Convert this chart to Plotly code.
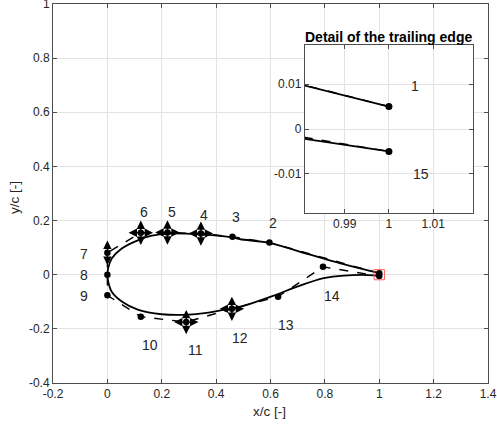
import plotly.graph_objects as go

# ---- data ----
cp_x = [1.0, 0.596, 0.46, 0.344, 0.221, 0.123, 0.0, 0.0, 0.0, 0.123, 0.29, 0.458, 0.628, 0.793, 1.0]
cp_y = [0.005, 0.119, 0.14, 0.152, 0.156, 0.155, 0.081, 0.0, -0.076, -0.155, -0.175, -0.126, -0.081, 0.029, -0.005]
cp_labels = [str(i) for i in range(1, 16)]

upper_x = [1.0, 0.981, 0.857, 0.735, 0.6, 0.489, 0.458, 0.347, 0.286, 0.225, 0.163, 0.114, 0.053, 0.016, 0.003, 0.0]
upper_y = [0.005, 0.0105, 0.042, 0.077, 0.117, 0.131, 0.138, 0.149, 0.152, 0.152, 0.144, 0.128, 0.097, 0.060, 0.025, 0.0]
lower_x = [0.0, 0.003, 0.016, 0.053, 0.114, 0.2, 0.286, 0.372, 0.458, 0.489, 0.612, 0.698, 0.796, 0.87, 0.981, 1.0]
lower_y = [0.0, -0.025, -0.063, -0.099, -0.13, -0.146, -0.148, -0.14, -0.124, -0.118, -0.077, -0.044, -0.013, -0.003, -0.0022, -0.005]

# label positions (main plot: points 2..14, inset: points 1 and 15)
label_x = [None, 0.61, 0.474, 0.356, 0.237, 0.136, -0.086, -0.086, -0.086, 0.155, 0.323, 0.489, 0.657, 0.827, None]
label_y = [None, 0.19, 0.215, 0.222, 0.232, 0.23, 0.075, 0.0, -0.077, -0.26, -0.278, -0.233, -0.185, -0.077, None]
inset_label_x = [1.0059, 1.0072]
inset_label_y = [0.0095, -0.0101]

# which control points carry movement arrows (index -> directions)
arrow_dirs = {3: "udlr", 4: "udlr", 5: "udlr", 6: "ud", 10: "udlr", 11: "udlr"}

x_ticks = [-0.2, 0, 0.2, 0.4, 0.6, 0.8, 1, 1.2, 1.4]
x_ticktext = ["-0.2", "0", "0.2", "0.4", "0.6", "0.8", "1", "1.2", "1.4"]
y_ticks = [-0.4, -0.2, 0, 0.2, 0.4, 0.6, 0.8, 1]
y_ticktext = ["-0.4", "-0.2", "0", "0.2", "0.4", "0.6", "0.8", "1"]
ix_ticks = [0.99, 1, 1.01]
ix_ticktext = ["0.99", "1", "1.01"]
iy_ticks = [-0.01, 0, 0.01]
iy_ticktext = ["-0.01", "0", "0.01"]

inset_xr = [0.981, 1.019]
inset_yr = [-0.0187, 0.0187]

FONT = "Liberation Sans, Arial, sans-serif"
TXT = "#262626"
AX = "#4d4d4d"
GRID = "#e3e3e3"

fig = go.Figure()

# main plot
fig.add_trace(go.Scatter(x=upper_x, y=upper_y, mode="lines", line=dict(color="black", width=1.8, shape="spline", smoothing=0.8), showlegend=False))
fig.add_trace(go.Scatter(x=lower_x, y=lower_y, mode="lines", line=dict(color="black", width=1.8, shape="spline", smoothing=0.8), showlegend=False))
fig.add_trace(go.Scatter(x=cp_x, y=cp_y, mode="lines+markers", line=dict(color="black", width=1.4, dash="dash"),
                         marker=dict(color="black", size=6.5), showlegend=False))

# inset plot
fig.add_trace(go.Scatter(x=upper_x, y=upper_y, mode="lines", line=dict(color="black", width=1.8), showlegend=False, xaxis="x2", yaxis="y2"))
fig.add_trace(go.Scatter(x=lower_x, y=lower_y, mode="lines", line=dict(color="black", width=1.8), showlegend=False, xaxis="x2", yaxis="y2"))
fig.add_trace(go.Scatter(x=cp_x, y=cp_y, mode="lines+markers", line=dict(color="black", width=1.4, dash="dash"),
                         marker=dict(color="black", size=7), showlegend=False, xaxis="x2", yaxis="y2"))

# labels
for lx, ly, t in zip(label_x, label_y, cp_labels):
    if lx is None:
        continue
    fig.add_annotation(x=lx, y=ly, text=t, showarrow=False, xref="x", yref="y",
                       font=dict(family=FONT, size=14, color=TXT))
for lx, ly, t in zip(inset_label_x, inset_label_y, [cp_labels[0], cp_labels[-1]]):
    fig.add_annotation(x=lx, y=ly, text=t, showarrow=False, xref="x2", yref="y2",
                       font=dict(family=FONT, size=14, color=TXT))

# arrows
L = 0.045
vec = {"u": (0, L), "d": (0, -L), "l": (-L, 0), "r": (L, 0)}
for idx, dirs in arrow_dirs.items():
    px, py = cp_x[idx], cp_y[idx]
    for d in dirs:
        dx, dy = vec[d]
        fig.add_annotation(x=px + dx, y=py + dy, ax=px, ay=py, xref="x", yref="y", axref="x", ayref="y",
                           showarrow=True, arrowhead=2, arrowsize=1.2, arrowwidth=1.4, arrowcolor="black", text="")

# red rectangle showing inset region
fig.add_shape(type="rect", xref="x", yref="y", x0=inset_xr[0], x1=inset_xr[1], y0=inset_yr[0], y1=inset_yr[1],
              line=dict(color="rgb(255,90,90)", width=1))

# inset title
fig.add_annotation(x=0.7724, y=0.913, xref="paper", yref="paper", text="<b>Detail of the trailing edge</b>",
                   showarrow=False, font=dict(family=FONT, size=14, color="black"), xanchor="center", yanchor="middle")

# axis titles
fig.add_annotation(x=0.4966, y=-0.074, xref="paper", yref="paper", text="x/c [-]", showarrow=False,
                   font=dict(family=FONT, size=13.5, color=TXT), xanchor="center", yanchor="middle")
fig.add_annotation(x=-0.088, y=0.49, xref="paper", yref="paper", text="y/c [-]", showarrow=False, textangle=-90,
                   font=dict(family=FONT, size=13.5, color=TXT), xanchor="center", yanchor="middle")

axis_common = dict(showgrid=True, gridcolor=GRID, gridwidth=1, zeroline=False, showline=True, linecolor=AX,
                   linewidth=1, mirror="ticks", ticks="inside", ticklen=4, tickcolor=AX, automargin=False,
                   ticklabeloverflow="allow", tickfont=dict(family=FONT, size=12, color=TXT))

fig.update_layout(
    width=497, height=432,
    margin=dict(l=53, r=9, t=4, b=49),
    paper_bgcolor="white", plot_bgcolor="white",
    xaxis=dict(range=[-0.2, 1.4], tickvals=x_ticks, ticktext=x_ticktext, domain=[0, 1], **axis_common),
    yaxis=dict(range=[-0.4, 1.0], tickvals=y_ticks, ticktext=y_ticktext, domain=[0, 1], **axis_common),
    xaxis2=dict(range=inset_xr, tickvals=ix_ticks, ticktext=ix_ticktext, domain=[0.579, 0.9655], anchor="y2", **axis_common),
    yaxis2=dict(range=inset_yr, tickvals=iy_ticks, ticktext=iy_ticktext, domain=[0.4485, 0.8918], anchor="x2", **axis_common),
)

fig.write_html("out.html", config={"displayModeBar": False},
               post_script="document.body.style.margin='0px';document.body.style.overflow='hidden';")
